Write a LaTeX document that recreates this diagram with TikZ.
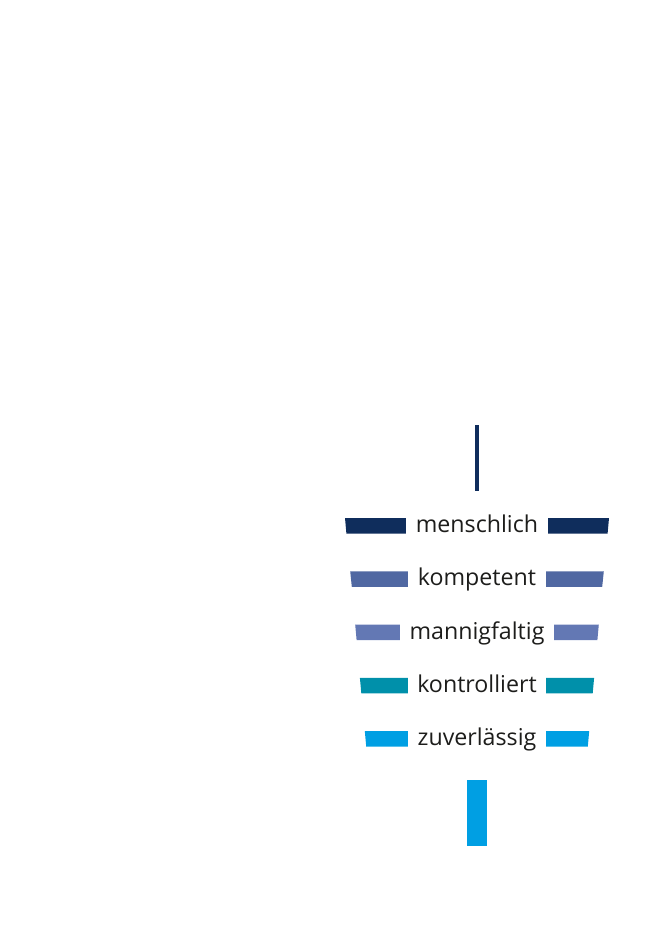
\documentclass[tikz,border=0pt]{standalone}
\usepackage{fontspec}
\setmainfont{Open Sans}
\definecolor{navy}{HTML}{0F2D5C}
\definecolor{slate}{HTML}{5068A2}
\definecolor{lavender}{HTML}{6378B4}
\definecolor{petrol}{HTML}{0090AA}
\definecolor{cyan}{HTML}{009FE3}
\definecolor{ink}{HTML}{1D1D1B}
\begin{document}
\begin{tikzpicture}[x=1pt,y=-1pt]
        \tikzstyle{word}=[anchor=base,fill=white,text=ink,inner xsep=9.5pt,inner ysep=1pt,text height=19pt,text depth=4pt,font=\fontsize{23.2}{28}\selectfont]
        \tikzstyle{stem}=[line width=4pt]
       \useasboundingbox (0,0) rectangle (671,939);
       \begin{scope}
         % funnel bands, covered in the middle by the words
         \fill[navy] (345,518) -- (609,518) -- (607.6,533.5) -- (346.4,533.5) -- cycle;
         \fill[slate] (350.2,571.3) -- (603.8,571.3) -- (602.2,586.8) -- (351.8,586.8) -- cycle;
         \fill[lavender] (355.2,624.5) -- (598.8,624.5) -- (597.4,640) -- (356.6,640) -- cycle;
         \fill[petrol] (359.9,677.8) -- (594.1,677.8) -- (592.7,693.3) -- (361.3,693.3) -- cycle;
         \fill[cyan] (364.8,731) -- (589.2,731) -- (587.8,746.5) -- (366.2,746.5) -- cycle;
         \node [word] (menschlich) at (477,532.5) {menschlich};
         \node [word] (kompetent) at (477,585.8) {kompetent};
         \node [word] (mannigfaltig) at (477,639) {mannigfaltig};
         \node [word] (kontrolliert) at (477,692.3) {kontrolliert};
         \node [word] (zuverlaessig) at (477,745.5) {zuverlässig};
         % top stem and bottom foot
         \draw[stem,navy] (477,425) -- (477,490.7);
         \fill[cyan] (466.7,780) rectangle (487,845.7);
        \end{scope}
      \end{tikzpicture}
\end{document}
